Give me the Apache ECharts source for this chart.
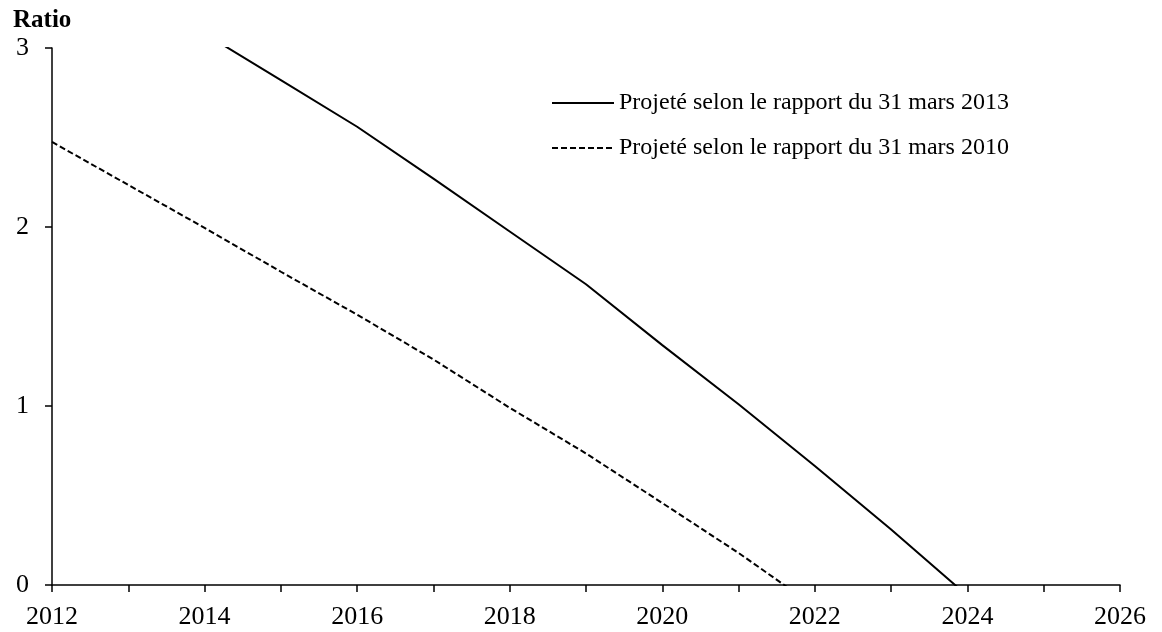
<!DOCTYPE html>
<html>
<head>
<meta charset="utf-8">
<script src="https://cdn.jsdelivr.net/npm/echarts@6/dist/echarts.min.js"></script>
<style>
  html, body { margin: 0; padding: 0; background: #fff; }
  #chart { width: 1162px; height: 632px; }
</style>
</head>
<body>
<div id="chart"></div>
<script>
// projected ratio, report of 31 March 2013 (solid)
const years2013 = [2014, 2015, 2016, 2017, 2018, 2019, 2020, 2021, 2022, 2023, 2024];
const ratio2013 = [3.08, 2.82, 2.56, 2.27, 1.975, 1.68, 1.34, 1.01, 0.665, 0.31, -0.06];

// projected ratio, report of 31 March 2010 (dashed)
const years2010 = [2012, 2013, 2014, 2015, 2016, 2017, 2018, 2019, 2020, 2021, 2022];
const ratio2010 = [2.475, 2.235, 1.995, 1.75, 1.51, 1.26, 0.99, 0.735, 0.458, 0.179, -0.12];

const names = [
  'Projeté selon le rapport du 31 mars 2013',
  'Projeté selon le rapport du 31 mars 2010'
];

const font = "'Liberation Serif', 'Times New Roman', serif";

function zip(xs, ys) {
  return xs.map((x, i) => [x, ys[i]]);
}

let chart = echarts.init(document.getElementById('chart'));

let option = {
  backgroundColor: '#fff',
  animation: false,
  title: {
    text: 'Ratio',
    left: 8,
    top: 3,
    textStyle: { fontFamily: font, fontWeight: 'bold', fontSize: 25, color: '#000' }
  },
  legend: {
    orient: 'vertical',
    left: 546,
    top: 86,
    itemWidth: 62,
    itemHeight: 22,
    itemGap: 21,
    itemTextGap: 6,
    itemStyle: { opacity: 0 },
    textStyle: { fontFamily: font, fontSize: 24, color: '#000' },
    data: names
  },
  grid: {
    left: 52,
    right: 42,
    top: 48,
    bottom: 47
  },
  xAxis: {
    type: 'value',
    min: 2012,
    max: 2026,
    interval: 1,
    splitLine: { show: false },
    axisLine: { lineStyle: { color: '#000', width: 1.5 } },
    axisTick: { show: true, inside: false, length: 7, lineStyle: { color: '#000', width: 1.5 } },
    axisLabel: {
      color: '#000',
      fontFamily: font,
      fontSize: 26,
      margin: 19,
      formatter: v => (v % 2 === 0 ? String(v) : '')
    }
  },
  yAxis: {
    type: 'value',
    min: 0,
    max: 3,
    interval: 1,
    splitLine: { show: false },
    axisLine: { show: true, lineStyle: { color: '#000', width: 1.5 } },
    axisTick: { show: true, inside: false, length: 7, lineStyle: { color: '#000', width: 1.5 } },
    axisLabel: { color: '#000', fontFamily: font, fontSize: 26, margin: 23 }
  },
  series: [
    {
      name: names[0],
      type: 'line',
      symbol: 'none',
      clip: true,
      lineStyle: { color: '#000', width: 2 },
      itemStyle: { color: '#000' },
      data: zip(years2013, ratio2013)
    },
    {
      name: names[1],
      type: 'line',
      symbol: 'none',
      clip: true,
      lineStyle: { color: '#000', width: 2, type: [6, 3] },
      itemStyle: { color: '#000' },
      data: zip(years2010, ratio2010)
    }
  ]
};

chart.setOption(option);
</script>
</body>
</html>
